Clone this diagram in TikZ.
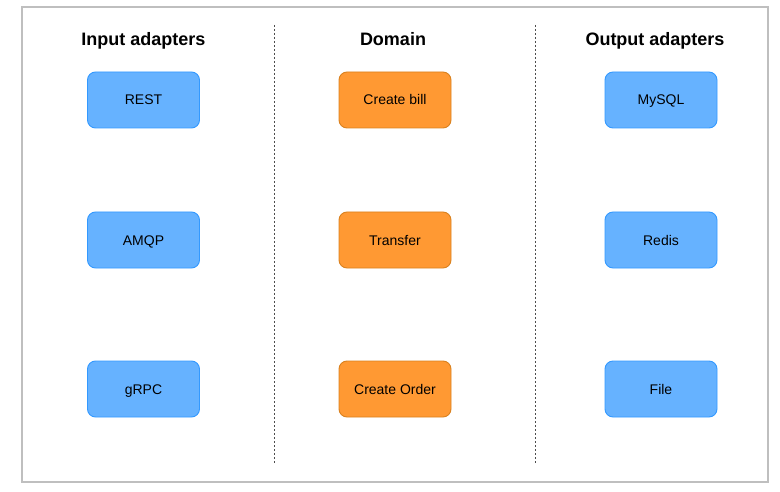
\documentclass[tikz,border=0pt]{standalone}
\usepackage{fontspec}
\setmainfont{Liberation Sans}
\usepackage{xcolor}
\usetikzlibrary{positioning}

\definecolor{adapterfill}{HTML}{66B2FF}
\definecolor{adapterline}{HTML}{3399FF}
\definecolor{domainfill}{HTML}{FF9933}
\definecolor{domainline}{HTML}{D9811F}

\begin{document}
\begin{tikzpicture}[x=1pt,y=-1pt,
	adapterbox/.style={rectangle,rounded corners=8pt,draw=adapterline,fill=adapterfill,line width=0.9pt,minimum width=112pt,minimum height=56pt,text height=10pt,text depth=0pt,font=\fontsize{14}{16}\selectfont},
	domainbox/.style={adapterbox,draw=domainline,fill=domainfill},
	coltitle/.style={anchor=base,font=\fontsize{18}{20}\selectfont\bfseries},
	separator/.style={draw=black!70,line width=1pt,dash pattern=on 2pt off 2pt}]

	\useasboundingbox (0,0) rectangle (780,492);
	\draw[black!25,line width=1.2pt] (22,7) rectangle (768,482);

	% Column titles
	\node [coltitle] at (143.5,45.5) (tin) {Input adapters};
	\node [coltitle] at (393,45.5) (tdom) {Domain};
	\node [coltitle] at (655,45.5) (tout) {Output adapters};

	% Input adapters
	\node [adapterbox] at (143.5,100) (rest) {REST};
	\node [adapterbox] at (143.5,240) (amqp) {AMQP};
	\node [adapterbox] at (143.5,389) (grpc) {gRPC};

	% Domain
	\node [domainbox] at (395,100) (bill) {Create bill};
	\node [domainbox] at (395,240) (transfer) {Transfer};
	\node [domainbox] at (395,389) (order) {Create Order};

	% Output adapters
	\node [adapterbox] at (661,100) (mysql) {MySQL};
	\node [adapterbox] at (661,240) (redis) {Redis};
	\node [adapterbox] at (661,389) (file) {File};

	% Separators
	\coordinate (s1top) at (274,25);
	\coordinate (s1bot) at (274,463);
	\coordinate (s2top) at (535,25);
	\coordinate (s2bot) at (535,463);
	\path[separator]
	(s1top) edge (s1bot)
	(s2top) edge (s2bot);

\end{tikzpicture}
\end{document}
